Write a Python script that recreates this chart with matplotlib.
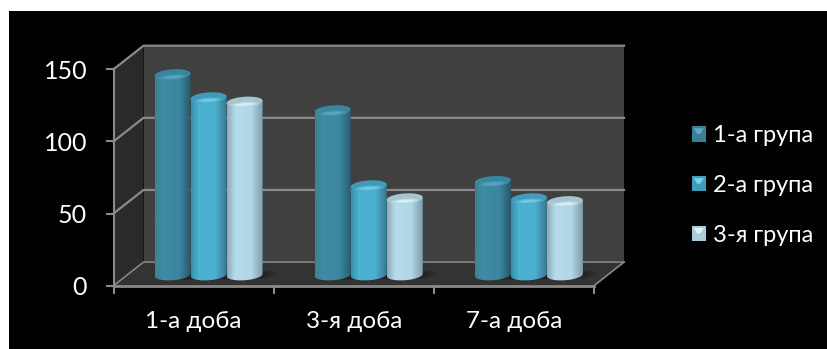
"""Cylinder bar chart of three groups over three days, on a dark 3-D style box."""
import numpy as np
import matplotlib
matplotlib.use("Agg")
import matplotlib.pyplot as plt
from matplotlib.colors import LinearSegmentedColormap
from matplotlib.legend_handler import HandlerPatch
from matplotlib.patches import Patch, PathPatch, Polygon, Rectangle
from matplotlib.path import Path

W, H = 827, 349

days = ["1-а доба", "3-я доба", "7-а доба"]
groups = ["1-а група", "2-а група", "3-я група"]
group1 = [139, 114, 65]
group2 = [123, 62, 53]
group3 = [120, 53, 51]
y_ticks = [0, 50, 100, 150]

# left edge, highlight, body, shaded edge for each series
shades = [
    ["#3f8196", "#3f8ba5", "#3b87a0", "#27596b"],
    ["#3d8ea9", "#4cb2d2", "#4bafcf", "#37788f"],
    ["#8fa9b6", "#b5dbeb", "#b3d7e7", "#7f9eac"],
]
top_colors = ["#38879f", "#3f9dbb", "#a6c3d0"]
glow_colors = ["#5aaac4", "#78cfe8", "#d8f5fd"]

plt.rcParams["font.family"] = ["Lato", "DejaVu Sans"]

fig = plt.figure(figsize=(W / 100, H / 100), dpi=100, facecolor="white")
fig.patches.append(Rectangle((9 / W, 0), 1 - 9 / W, 1 - 11 / H, transform=fig.transFigure,
                             facecolor="black", edgecolor="none", zorder=-5))

# axes box is the front face of the chart: x in categories, y in values
x0, x1, y0, y150 = 113.5, 594.0, 285.7, 69.3
ax = fig.add_axes([x0 / W, 1 - y0 / H, (x1 - x0) / W, (y0 - y150) / H])
ax.patch.set_alpha(0)
ax.set_xlim(0, len(days))
ax.set_ylim(0, 150)
for s in ax.spines.values():
    s.set_visible(False)

px_x = len(days) / (x1 - x0)
px_y = 150 / (y0 - y150)
dx, dy = 30 * px_x, 23.6 * px_y
grid = "#8a8a8a"

# walls and floor
ax.add_patch(Polygon([(dx, dy), (3 + dx, dy), (3 + dx, 150 + dy), (dx, 150 + dy)],
                     facecolor="#404040", edgecolor="none", zorder=1, clip_on=False))
ax.add_patch(Polygon([(0, 0), (dx, dy), (dx, 150 + dy), (0, 150)],
                     facecolor="#2a2a2a", edgecolor="none", zorder=1, clip_on=False))
ax.add_patch(Polygon([(0, 0), (3, 0), (3 + dx, dy), (dx, dy)],
                     facecolor="#333333", edgecolor="none", zorder=1, clip_on=False))

for v in y_ticks:
    ax.plot([0, dx, 3 + dx], [v, v + dy, v + dy], color=grid, lw=1.1 if v == 0 else 1.6,
            zorder=2, clip_on=False)
ax.plot([3, 3 + dx], [0, dy], color=grid, lw=1.2, zorder=2, clip_on=False)
ax.plot([0, 3], [0, 0], color=grid, lw=2, zorder=6, clip_on=False)
ax.plot([0, 0], [0, 150], color=grid, lw=1.5, zorder=6, clip_on=False)

ax.set_xticks(range(len(days) + 1))
ax.set_xticklabels([])
ax.set_yticks(y_ticks)
ax.tick_params(axis="both", color=grid, width=1.5, length=6, labelcolor="white", labelsize=18, pad=13)
for i, d in enumerate(days):
    ax.text(i + 0.5, -24.5, d, color="white", fontsize=17.5, ha="center", va="center")

bar_w = 36 * px_x
rx, ry = bar_w / 2, 5.2 * px_y
tilt = 1.2 * px_y
base = dy / 2 - 0.8
t = np.linspace(0, 2 * np.pi, 80)


def ring(cx, cy, sx=1.0, sy=1.0):
    return cx + rx * sx * np.cos(t), cy + ry * sy * np.sin(t) + tilt * sx * np.cos(t)


def draw_cylinder(cx, value, k, z):
    top = base + value
    cmap = LinearSegmentedColormap.from_list("body", list(zip([0, 0.22, 0.68, 1], shades[k])))
    # side surface: gradient clipped to the outline between the two end caps
    lower = t[(t >= np.pi) & (t <= 2 * np.pi)]
    xs = cx + rx * np.cos(lower)
    ys = base + ry * np.sin(lower) + tilt * np.cos(lower)
    outline = np.vstack([np.column_stack([xs, ys]),
                         [[cx + rx, top + tilt]], [[cx - rx, top - tilt]], [[cx - rx, base - tilt]]])
    clip = PathPatch(Path(outline, closed=True), transform=ax.transData, facecolor="none",
                     edgecolor="none", clip_on=False, zorder=z)
    ax.add_patch(clip)
    im = ax.imshow(np.linspace(0, 1, 64)[None, :], cmap=cmap, aspect="auto", zorder=z,
                   extent=[cx - rx, cx + rx, base - 2 * ry, top + 2 * ry])
    im.set_clip_path(clip)
    # end cap, brightest just behind the front rim
    ax.fill(*ring(cx, top), color=top_colors[k], lw=0, zorder=z + 0.1, clip_on=False)
    for sx, sy, alpha in [(0.8, 0.5, 0.3), (0.62, 0.36, 0.5), (0.45, 0.24, 0.7)]:
        ax.fill(*ring(cx, top - 0.5 * ry, sx, sy), color=glow_colors[k], alpha=alpha, lw=0,
                zorder=z + 0.2, clip_on=False)


series = [group1, group2, group3]
for i in range(len(days)):
    c = i + 0.5 + dx / 2
    # soft shadow cast on the floor, fading towards the right
    for reach, alpha in [(0.41, 0.15), (0.38, 0.2), (0.35, 0.3)]:
        ax.fill(c + np.array([-0.33, -0.33, reach, reach + 0.02, reach - 0.04, -0.30]),
                base + np.array([-ry * 0.6, ry * 0.6, ry * 0.7, 0, -ry * 0.7, -ry * 0.9]),
                color="#141414", alpha=alpha, lw=0, zorder=2.5, clip_on=False)
    for k, values in enumerate(series):
        draw_cylinder(c + (k - 1) * bar_w, values[i], k, 3 + k)

ax.set_xlim(0, len(days))
ax.set_ylim(0, 150)


class PyramidHandler(HandlerPatch):
    def create_artists(self, legend, orig_handle, xdescent, ydescent, width, height, fontsize, trans):
        sw, sh = 14 * 0.72, 15.5 * 0.72
        x, y = (width - sw) / 2 - xdescent, (height - sh) / 2 - ydescent
        square = Rectangle((x, y), sw, sh, facecolor=orig_handle.get_facecolor(), edgecolor="none",
                           transform=trans)
        glow = Polygon([(x + sw * 0.14, y + sh * 0.86), (x + sw * 0.86, y + sh * 0.86),
                        (x + sw * 0.62, y + sh * 0.5), (x + sw * 0.38, y + sh * 0.5)],
                       facecolor=orig_handle.get_edgecolor(), edgecolor="none", transform=trans)
        return [square, glow]


handles = [Patch(facecolor=c, edgecolor=g) for c, g in zip(["#3b7f95", "#3f9dbb", "#a9cbda"], glow_colors)]
fig.legend(handles, groups, handler_map={Patch: PyramidHandler()}, frameon=False, fontsize=17,
           labelcolor="white", loc="center left", bbox_to_anchor=(687 / W, 1 - 185.5 / H),
           handlelength=1.0, handletextpad=0.1, labelspacing=1.22, borderpad=0, borderaxespad=0)

fig.savefig("out.png", dpi=100, facecolor="white")
plt.close(fig)
